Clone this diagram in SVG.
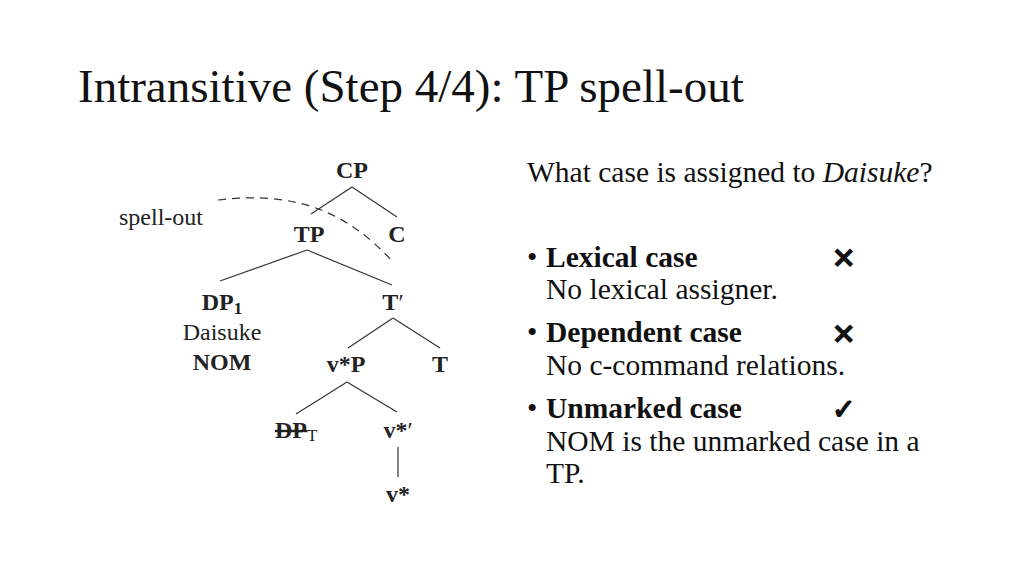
<svg xmlns="http://www.w3.org/2000/svg" width="1024" height="576" viewBox="0 0 1024 576">
<style>
.title{font-family:"Liberation Serif",serif;font-size:47px;fill:#111}
.lbl{font-family:"Liberation Serif",serif;font-size:24px;font-weight:bold;fill:#222;text-anchor:middle}
.plain{font-family:"Liberation Serif",serif;font-size:24px;fill:#222}
.body{font-family:"Liberation Serif",serif;font-size:29.5px;fill:#111}
.b{font-weight:bold}
.sym{font-family:"DejaVu Sans",sans-serif;font-size:28px;fill:#111;stroke:#111;stroke-width:1.6}
.edge{stroke:#333;stroke-width:1.2;fill:none}
</style>
<rect width="1024" height="576" fill="#fff"/>
<text class="title" x="78" y="102">Intransitive (Step 4/4): TP spell-out</text>

<g id="connectors">
<line class="edge" x1="352" y1="187" x2="311" y2="214"/>
<line class="edge" x1="352" y1="187" x2="397" y2="217"/>
<line class="edge" x1="307" y1="250" x2="220" y2="281"/>
<line class="edge" x1="307" y1="250" x2="392" y2="285"/>
<line class="edge" x1="393" y1="318" x2="348" y2="348"/>
<line class="edge" x1="393" y1="318" x2="440" y2="348"/>
<line class="edge" x1="347" y1="382" x2="296" y2="414"/>
<line class="edge" x1="347" y1="382" x2="397" y2="412"/>
<line class="edge" x1="398" y1="447" x2="398" y2="477"/>
<path class="edge" d="M218,200 C300,190 350,215 393,262" stroke-dasharray="8,6"/>
</g>

<g id="spellout"><text class="plain" x="119" y="225">spell-out</text></g>
<g id="CP"><text class="lbl" x="352" y="178">CP</text></g>
<g id="TP"><text class="lbl" x="309" y="242">TP</text></g>
<g id="C"><text class="lbl" x="397" y="242">C</text></g>
<g id="DP1"><text class="lbl" x="222" y="310">DP<tspan font-size="17" dy="4">1</tspan></text>
<text class="plain" x="222" y="340" text-anchor="middle">Daisuke</text>
<text class="lbl" x="222" y="370">NOM</text></g>
<g id="Tbar"><text class="lbl" x="393" y="310">T<tspan font-weight="normal">′</tspan></text></g>
<g id="vP"><text class="lbl" x="346" y="372">v*P</text></g>
<g id="T"><text class="lbl" x="440" y="372">T</text></g>
<g id="DPT"><text class="plain" x="275" y="438"><tspan font-weight="bold" text-decoration="line-through">DP</tspan><tspan font-size="17" dy="3">T</tspan></text></g>
<g id="vbar"><text class="lbl" x="398" y="438">v*<tspan font-weight="normal">′</tspan></text></g>
<g id="v"><text class="lbl" x="398" y="502">v*</text></g>

<g id="question"><text class="body" x="527" y="182">What case is assigned to <tspan font-style="italic">Daisuke</tspan>?</text></g>
<g id="list">
<text class="body" x="527" y="267">•</text>
<text class="body b" x="546" y="267">Lexical case</text>
<text class="sym" x="832" y="268">✕</text>
<text class="body" x="546" y="299">No lexical assigner.</text>
<text class="body" x="527" y="342">•</text>
<text class="body b" x="546" y="342">Dependent case</text>
<text class="sym" x="832" y="344">✕</text>
<text class="body" x="546" y="375">No c-command relations.</text>
<text class="body" x="527" y="418">•</text>
<text class="body b" x="546" y="418">Unmarked case</text>
<text class="sym" x="832" y="419">✓</text>
<text class="body" x="546" y="451">NOM is the unmarked case in a</text>
<text class="body" x="546" y="483">TP.</text>
</g>
</svg>
